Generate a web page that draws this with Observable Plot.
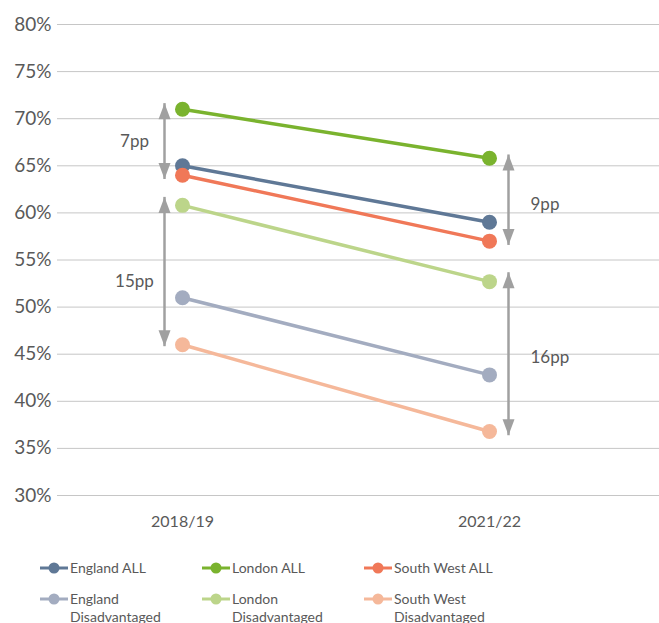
<!DOCTYPE html>
<html>
<head>
<meta charset="utf-8">
<script src="https://cdn.jsdelivr.net/npm/d3@7"></script>
<script src="https://cdn.jsdelivr.net/npm/@observablehq/plot@0.6"></script>
<style>
  body { margin: 0; background: white; }
  #chart svg g[aria-label^="y-axis"] text { font-size: 19px; }
  #chart svg g[aria-label^="x-axis"] text { font-size: 16px; }
  #legend { position: relative; width: 659px; height: 83px; font-family: Lato, sans-serif; font-size: 14px; color: #595959; }
  .item { position: absolute; display: flex; align-items: flex-start; line-height: 18px; }
  .item span { width: 130px; margin-left: 2px; }
</style>
</head>
<body>
<div id="chart"></div>
<div id="legend"></div>
<script>
const years = ["2018/19", "2021/22"];
const series = ["England ALL", "London ALL", "South West ALL", "England Disadvantaged", "London Disadvantaged", "South West Disadvantaged"];
const values2018 = [65, 71, 64, 51, 60.8, 46];
const values2021 = [59, 65.8, 57, 42.8, 52.7, 36.8];
const colors = ["#5f7896", "#7ab32e", "#f07858", "#a3acc0", "#bcd58a", "#f5b89a"];
const yTicks = [30, 35, 40, 45, 50, 55, 60, 65, 70, 75, 80];

const arrowYear = ["2018/19", "2018/19", "2021/22", "2021/22"];
const arrowFrom = [71.65, 61.7, 66.2, 53.7];
const arrowTo = [63.6, 45.85, 56.6, 36.4];
const arrowLabels = ["7pp", "15pp", "9pp", "16pp"];
const arrowLabelY = [67.6, 52.7, 60.9, 44.65];

const data = [];
series.forEach((s, i) => {
  data.push({series: s, year: years[0], value: values2018[i]});
  data.push({series: s, year: years[1], value: values2021[i]});
});
const arrows = arrowYear.map((y, i) => ({year: y, from: arrowFrom[i], to: arrowTo[i], label: arrowLabels[i], labelY: arrowLabelY[i]}));
const leftArrows = arrows.filter(d => d.year === years[0]);
const rightArrows = arrows.filter(d => d.year === years[1]);

const headUp = {draw(ctx) { ctx.moveTo(0, 0); ctx.lineTo(6, 16); ctx.lineTo(-6, 16); ctx.closePath(); }};
const headDown = {draw(ctx) { ctx.moveTo(0, 0); ctx.lineTo(6, -16); ctx.lineTo(-6, -16); ctx.closePath(); }};
const gray = "#a0a0a0";

function arrowMarks(list, dx) {
  return [
    Plot.link(list, {x1: "year", x2: "year", y1: "from", y2: "to", dx, stroke: gray, strokeWidth: 2.5}),
    Plot.dot(list, {x: "year", y: "from", dx, symbol: headUp, fill: gray, stroke: "none"}),
    Plot.dot(list, {x: "year", y: "to", dx, symbol: headDown, fill: gray, stroke: "none"})
  ];
}

const chart = Plot.plot({
  width: 659,
  height: 540,
  marginLeft: 57,
  marginRight: 0,
  marginTop: 24,
  marginBottom: 45,
  style: {fontFamily: "Lato, sans-serif", color: "#595959", background: "white", overflow: "visible"},
  x: {type: "point", domain: years, range: [182, 489], padding: 0, tickSize: 0, tickPadding: 20, label: null},
  y: {domain: [30, 80], ticks: yTicks, tickSize: 0, tickPadding: 6, tickFormat: d => d + "%", label: null},
  color: {domain: series, range: colors},
  marks: [
    Plot.ruleY(yTicks, {stroke: "#c6c6c6", strokeWidth: 1}),
    ...arrowMarks(leftArrows, -18),
    ...arrowMarks(rightArrows, 19),
    Plot.text(leftArrows, {x: "year", y: "labelY", text: "label", dx: -48, fontSize: 17, fill: "#595959"}),
    Plot.text(rightArrows, {x: "year", y: "labelY", text: "label", dx: 41, textAnchor: "start", fontSize: 17, fill: "#595959"}),
    Plot.line(data, {x: "year", y: "value", z: "series", stroke: "series", strokeWidth: 3.5}),
    Plot.dot(data, {x: "year", y: "value", fill: "series", r: 7.5, stroke: "none"})
  ]
});
document.getElementById("chart").appendChild(chart);

const legend = document.getElementById("legend");
const colLeft = [40, 202, 364];
const rowTop = [19, 50];
series.forEach((s, i) => {
  const item = document.createElement("div");
  item.className = "item";
  item.style.left = colLeft[i % 3] + "px";
  item.style.top = rowTop[Math.floor(i / 3)] + "px";
  item.innerHTML = `<svg width="28" height="18"><line x1="0" x2="28" y1="9" y2="9" stroke="${colors[i]}" stroke-width="3"/><circle cx="14" cy="9" r="5.5" fill="${colors[i]}"/></svg><span>${s}</span>`;
  legend.appendChild(item);
});
</script>
</body>
</html>
